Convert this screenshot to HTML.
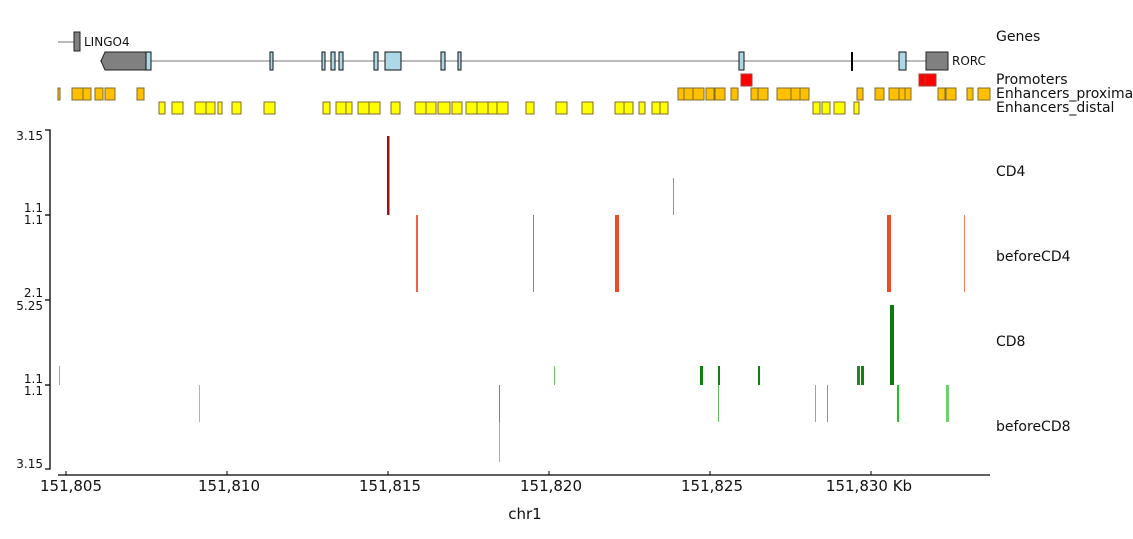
<!DOCTYPE html>
<html><head><meta charset="utf-8"><style>body{margin:0;background:#fff}svg{display:block}text{font-family:"DejaVu Sans","Liberation Sans",sans-serif;fill:#111}</style></head><body>
<svg width="1133" height="539" viewBox="0 0 1133 539">
<!-- genes -->
<line x1="58" y1="42" x2="74" y2="42" stroke="#777"/>
<rect x="74" y="32" width="6" height="19" fill="#808080" stroke="#222"/>
<text x="84" y="46" font-size="12">LINGO4</text>
<line x1="100" y1="61" x2="926" y2="61" stroke="#777"/>
<polygon points="105,52 146,52 146,70 105,70 101,61" fill="#808080" stroke="#222"/>
<g fill="#add8e6" stroke="#111">
<rect x="146" y="52" width="5" height="18"/><rect x="270" y="52" width="3" height="18"/>
<rect x="322" y="52" width="3" height="18"/><rect x="331" y="52" width="4" height="18"/>
<rect x="339" y="52" width="4" height="18"/><rect x="374" y="52" width="4" height="18"/>
<rect x="385" y="52" width="16" height="18"/><rect x="441" y="52" width="4" height="18"/>
<rect x="458" y="52" width="3" height="18"/><rect x="739" y="52" width="5" height="18"/>
<rect x="899" y="52" width="7" height="18"/></g>
<line x1="852" y1="52" x2="852" y2="71" stroke="#000" stroke-width="2"/>
<rect x="926" y="52" width="22" height="18" fill="#808080" stroke="#222"/>
<text x="952" y="65" font-size="12">RORC</text>
<g fill="#ff0000" stroke="#a04040"><rect x="741" y="74" width="11" height="12"/><rect x="919" y="74" width="6" height="12"/><rect x="925" y="74" width="11" height="12"/></g>
<g fill="#ffc000" stroke="#7d6b36">
<rect x="58" y="88" width="2" height="12"/><rect x="72" y="88" width="11" height="12"/><rect x="83" y="88" width="8" height="12"/><rect x="95" y="88" width="8" height="12"/><rect x="105" y="88" width="10" height="12"/><rect x="137" y="88" width="7" height="12"/>
<rect x="678" y="88" width="6" height="12"/><rect x="684" y="88" width="9" height="12"/><rect x="693" y="88" width="11" height="12"/><rect x="706" y="88" width="8" height="12"/><rect x="715" y="88" width="10" height="12"/><rect x="731" y="88" width="7" height="12"/>
<rect x="751" y="88" width="7" height="12"/><rect x="758" y="88" width="10" height="12"/><rect x="777" y="88" width="14" height="12"/><rect x="791" y="88" width="9" height="12"/><rect x="800" y="88" width="9" height="12"/>
<rect x="857" y="88" width="6" height="12"/><rect x="875" y="88" width="9" height="12"/><rect x="889" y="88" width="10" height="12"/><rect x="899" y="88" width="6" height="12"/><rect x="905" y="88" width="6" height="12"/>
<rect x="938" y="88" width="7" height="12"/><rect x="946" y="88" width="10" height="12"/><rect x="967" y="88" width="6" height="12"/><rect x="978" y="88" width="12" height="12"/></g>
<g fill="#ffff00" stroke="#7d6b36">
<rect x="159" y="102" width="6" height="12"/><rect x="172" y="102" width="11" height="12"/><rect x="195" y="102" width="11" height="12"/><rect x="206" y="102" width="9" height="12"/><rect x="218" y="102" width="4" height="12"/><rect x="232" y="102" width="9" height="12"/><rect x="264" y="102" width="11" height="12"/>
<rect x="323" y="102" width="7" height="12"/><rect x="336" y="102" width="10" height="12"/><rect x="346" y="102" width="6" height="12"/><rect x="358" y="102" width="11" height="12"/><rect x="369" y="102" width="11" height="12"/><rect x="391" y="102" width="9" height="12"/>
<rect x="415" y="102" width="11" height="12"/><rect x="426" y="102" width="10" height="12"/><rect x="438" y="102" width="12" height="12"/><rect x="452" y="102" width="10" height="12"/><rect x="466" y="102" width="11" height="12"/><rect x="477" y="102" width="11" height="12"/><rect x="488" y="102" width="9" height="12"/><rect x="497" y="102" width="11" height="12"/><rect x="526" y="102" width="8" height="12"/>
<rect x="556" y="102" width="11" height="12"/><rect x="582" y="102" width="11" height="12"/><rect x="615" y="102" width="9" height="12"/><rect x="624" y="102" width="9" height="12"/><rect x="639" y="102" width="6" height="12"/><rect x="652" y="102" width="8" height="12"/><rect x="660" y="102" width="8" height="12"/>
<rect x="813" y="102" width="7" height="12"/><rect x="822" y="102" width="8" height="12"/><rect x="834" y="102" width="11" height="12"/><rect x="854" y="102" width="5" height="12"/></g>
<!-- labels -->
<g font-size="14">
<text x="996" y="41">Genes</text><text x="996" y="84">Promoters</text><text x="996" y="98">Enhancers_proximal</text><text x="996" y="112">Enhancers_distal</text>
<text x="996" y="176">CD4</text><text x="996" y="261">beforeCD4</text><text x="996" y="346">CD8</text><text x="996" y="431">beforeCD8</text></g>
<!-- y axis -->
<g stroke="#000" stroke-width="1.3" fill="none">
<polyline points="45,130 50,130 50,469 45,469"/>
<line x1="45" y1="215" x2="50" y2="215"/><line x1="45" y1="300" x2="50" y2="300"/><line x1="45" y1="385" x2="50" y2="385"/>
<line x1="58" y1="475" x2="990" y2="475"/></g>
<g font-size="12" text-anchor="end">
<text x="43" y="140">3.15</text><text x="43" y="212">1.1</text><text x="43" y="224">1.1</text><text x="43" y="297">2.1</text><text x="43" y="310">5.25</text><text x="43" y="383">1.1</text><text x="43" y="395">1.1</text><text x="43" y="468">3.15</text></g>
<!-- bars -->
<rect x="387" y="136" width="2.5" height="79" fill="#a01010"/>
<rect x="673" y="178" width="1" height="37" fill="#c08080"/>
<rect x="416" y="215" width="2" height="77" fill="#f06040"/>
<rect x="533" y="215" width="1" height="77" fill="#c07060"/>
<rect x="615" y="215" width="4" height="77" fill="#f04a25"/>
<rect x="887" y="215" width="4" height="77" fill="#f04a25"/>
<rect x="964" y="215" width="1" height="77" fill="#f08060"/>
<rect x="59" y="366" width="1" height="19" fill="#99aa99"/>
<rect x="554" y="366" width="1" height="19" fill="#70c070"/>
<rect x="700" y="366" width="3" height="19" fill="#108010"/>
<rect x="718" y="366" width="2" height="19" fill="#108010"/>
<rect x="758" y="366" width="2" height="19" fill="#108010"/>
<rect x="857" y="366" width="3" height="19" fill="#208820"/>
<rect x="861" y="366" width="3" height="19" fill="#108010"/>
<rect x="890" y="305" width="4" height="80" fill="#0a7a0a"/>
<rect x="199" y="385" width="1" height="37" fill="#b0b0b0"/>
<rect x="499" y="385" width="1" height="77" fill="#90c090"/>
<rect x="499" y="385" width="1" height="37" fill="#40b040"/>
<rect x="718" y="385" width="1" height="37" fill="#60c060"/>
<rect x="815" y="385" width="1" height="37" fill="#a0a0a0"/>
<rect x="827" y="385" width="1" height="37" fill="#80a080"/>
<rect x="897" y="385" width="2" height="37" fill="#20c020"/>
<rect x="946" y="385" width="3" height="37" fill="#70d070"/>
<!-- x axis -->
<g stroke="#000"><line x1="66" y1="471" x2="66" y2="475"/><line x1="227" y1="471" x2="227" y2="475"/><line x1="388" y1="471" x2="388" y2="475"/><line x1="549" y1="471" x2="549" y2="475"/><line x1="710" y1="471" x2="710" y2="475"/><line x1="871" y1="471" x2="871" y2="475"/></g>
<g font-size="15" text-anchor="middle">
<text x="71" y="491">151,805</text><text x="229" y="491">151,810</text><text x="390" y="491">151,815</text><text x="551" y="491">151,820</text><text x="712" y="491">151,825</text><text x="869" y="491">151,830 Kb</text>
<text x="525" y="519">chr1</text></g>
</svg></body></html>
